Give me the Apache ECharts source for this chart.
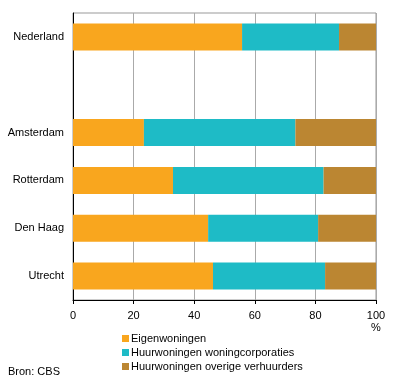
<!DOCTYPE html>
<html><head><meta charset="utf-8">
<script src="https://cdn.jsdelivr.net/npm/echarts@6/dist/echarts.min.js"></script>
<style>html,body{margin:0;padding:0;background:#fff}#c{width:396px;height:384px}</style>
</head><body><div id="c"></div>
<script>
const categories = ['Nederland', '', 'Amsterdam', 'Rotterdam', 'Den Haag', 'Utrecht'];
const eigenwoningen = [55.8, null, 23.4, 33.0, 44.6, 46.2];
const corporaties = [32.0, null, 50.0, 49.7, 36.3, 37.0];
const overige = [12.2, null, 26.6, 17.3, 19.1, 16.8];
const xTicks = [0, 20, 40, 60, 80, 100];
const seriesNames = ['Eigenwoningen', 'Huurwoningen woningcorporaties', 'Huurwoningen overige verhuurders'];
const colors = ['#F9A61E', '#1EBBC6', '#BB8632'];
const font = 'Arial, "Liberation Sans", sans-serif';

const chart = echarts.init(document.getElementById('c'), null, {renderer: 'canvas'});
const mk = (name, data, color) => ({
  name, type: 'bar', stack: 'total', data, barWidth: 27,
  itemStyle: {color}, emphasis: {disabled: true}, animation: false
});
chart.setOption({
  animation: false,
  textStyle: {fontFamily: font},
  grid: {left: 73, right: 20, top: 13, bottom: 84, show: true, borderColor: '#999', borderWidth: 1},
  xAxis: {
    type: 'value', min: 0, max: 100, interval: 20,
    axisLine: {show: true, lineStyle: {color: '#000'}},
    axisTick: {show: true, length: 4, lineStyle: {color: '#000'}},
    splitLine: {show: true, lineStyle: {color: '#aaa'}},
    axisLabel: {color: '#000', fontSize: 11, fontFamily: font, margin: 10, lineHeight: 12,
      formatter: v => xTicks.includes(v) ? (v === 100 ? '100\n%' : String(v)) : ''}
  },
  yAxis: {
    type: 'category', data: categories, inverse: true,
    axisLine: {show: true, lineStyle: {color: '#000'}},
    axisTick: {show: false},
    axisLabel: {color: '#000', fontSize: 11, fontFamily: font, margin: 9}
  },
  legend: {
    orient: 'vertical', left: 117, top: 328, itemWidth: 7, itemHeight: 7, itemGap: 3,
    icon: 'rect', data: seriesNames,
    textStyle: {color: '#000', fontSize: 11, fontFamily: font, padding: [0, 0, 0, -3]}
  },
  graphic: [{type: 'text', left: 8, top: 366, style: {text: 'Bron: CBS', fill: '#000', font: '11px ' + font}}],
  series: [
    mk(seriesNames[0], eigenwoningen, colors[0]),
    mk(seriesNames[1], corporaties, colors[1]),
    mk(seriesNames[2], overige, colors[2])
  ]
});
</script></body></html>
